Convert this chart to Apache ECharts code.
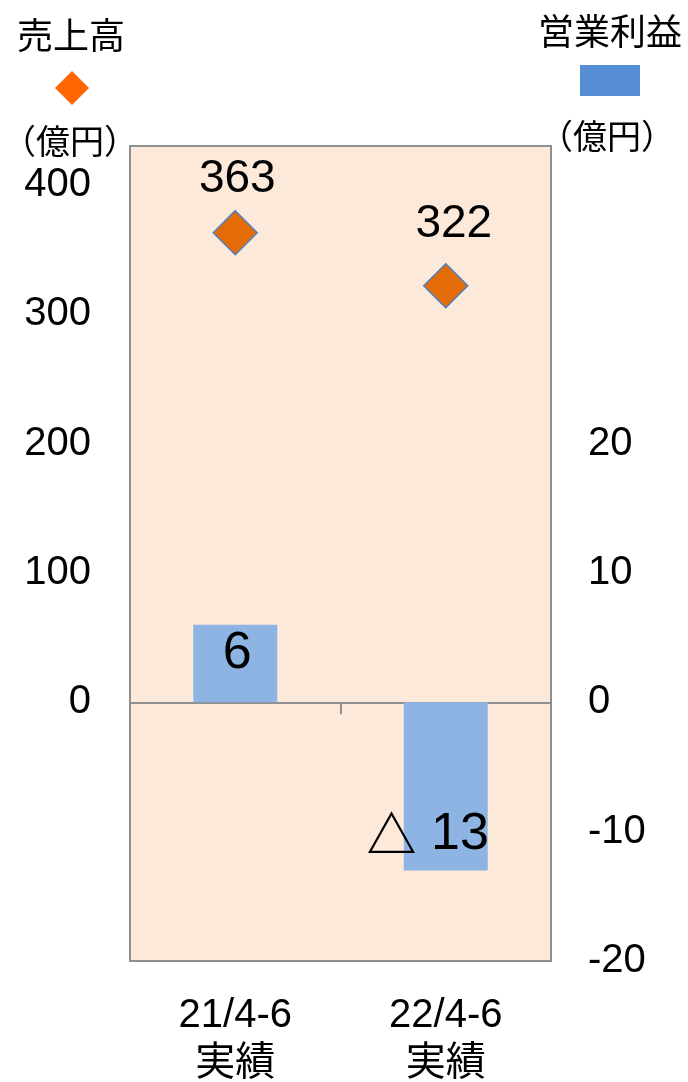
<!DOCTYPE html>
<html>
<head>
<meta charset="utf-8">
<script src="https://cdn.jsdelivr.net/npm/echarts@6/dist/echarts.min.js"></script>
<style>
  html, body { margin: 0; padding: 0; background: #ffffff; }
  #chart { width: 688px; height: 1082px; }
</style>
</head>
<body>
<div id="chart"></div>
<script>
// Quarterly results: net sales (left axis, 億円) and operating profit (right axis, 億円)
const categories = ['21/4-6\n実績', '22/4-6\n実績'];
const salesValues = [363, 322];
const profitValues = [6, -13];
const salesTickLabels = [0, 100, 200, 300, 400];
const profitTickLabels = [-20, -10, 0, 10, 20];

const salesName = '売上高';
const profitName = '営業利益';
const unitText = '（億円）';

const FONT = "'Liberation Sans', Arial, 'Noto Sans CJK JP', sans-serif";
const CJK = "'Noto Sans CJK JP', 'Liberation Sans', sans-serif";

// label placement per point (relative to each mark's centre)
const salesLabelOffsets = [[2, -53], [8, -61]];
const profitLabelOffsets = [[2, -10], [-18, 48]];

// negative values are written with a leading triangle
const profitLabel = v => (v < 0 ? '{tri|△} ' + Math.abs(v) : String(v));

const chart = echarts.init(document.getElementById('chart'), null, { renderer: 'canvas' });

chart.setOption({
  backgroundColor: '#ffffff',
  animation: false,
  grid: {
    left: 130, right: 137, top: 146, bottom: 121,
    outerBoundsMode: 'none',
    containLabel: false,
    show: true,
    backgroundColor: '#FDE9DA',
    borderColor: '#8f8f8f',
    borderWidth: 2
  },
  legend: [
    {
      data: [salesName], icon: 'diamond', itemWidth: 34, itemHeight: 34,
      left: 55, top: 71, padding: 0, itemGap: 0, selectedMode: false,
      formatter: () => '', textStyle: { fontSize: 1 },
      itemStyle: { color: '#FF6600', borderWidth: 0 }
    },
    {
      data: [profitName], icon: 'rect', itemWidth: 60, itemHeight: 31,
      left: 580, top: 65, padding: 0, itemGap: 0, selectedMode: false,
      formatter: () => '', textStyle: { fontSize: 1 },
      itemStyle: { color: '#558ED5', borderWidth: 0 }
    }
  ],
  graphic: [
    { type: 'text', x: 71, y: 35, style: { text: salesName, fontFamily: CJK, fontSize: 36, fill: '#000', align: 'center', verticalAlign: 'middle' } },
    { type: 'text', x: 610, y: 31, style: { text: profitName, fontFamily: CJK, fontSize: 36, fill: '#000', align: 'center', verticalAlign: 'middle' } },
    { type: 'text', x: 70, y: 141, style: { text: unitText, fontFamily: CJK, fontSize: 34, fill: '#000', align: 'center', verticalAlign: 'middle' } },
    { type: 'text', x: 607, y: 136, style: { text: unitText, fontFamily: CJK, fontSize: 34, fill: '#000', align: 'center', verticalAlign: 'middle' } }
  ],
  xAxis: [
    {
      // zero line with the divider tick
      type: 'category', data: categories, position: 'bottom',
      axisLine: { show: true, onZero: true, lineStyle: { color: '#8f8f8f', width: 2 } },
      axisTick: { show: true, length: 12, lineStyle: { color: '#8f8f8f', width: 2 } },
      axisLabel: { show: false },
      splitLine: { show: false }
    },
    {
      // category labels under the plot
      type: 'category', data: categories, position: 'bottom',
      axisLine: { show: false, onZero: false },
      axisTick: { show: false },
      axisLabel: { show: true, margin: 31, fontFamily: FONT, fontSize: 40, lineHeight: 48, color: '#000' },
      splitLine: { show: false }
    }
  ],
  yAxis: [
    {
      type: 'value', position: 'left', min: -200, max: 430, interval: 100,
      axisLine: { show: false }, axisTick: { show: false }, splitLine: { show: false },
      axisLabel: {
        margin: 39, fontFamily: FONT, fontSize: 40, color: '#000',
        formatter: v => (salesTickLabels.includes(v) ? String(v) : '')
      }
    },
    {
      type: 'value', position: 'right', min: -20, max: 43, interval: 10,
      axisLine: { show: false }, axisTick: { show: false }, splitLine: { show: false },
      axisLabel: {
        margin: 37, fontFamily: FONT, fontSize: 40, color: '#000',
        formatter: v => (profitTickLabels.includes(v) ? String(v) : '')
      }
    }
  ],
  series: [
    {
      name: profitName, type: 'bar', xAxisIndex: 0, yAxisIndex: 1,
      barWidth: 84,
      itemStyle: { color: '#8DB4E2' },
      data: profitValues.map((v, i) => ({
        value: v,
        label: { show: true, position: 'inside', offset: profitLabelOffsets[i] }
      })),
      label: {
        show: true, fontFamily: FONT, fontSize: 52, color: '#000',
        formatter: p => profitLabel(p.value),
        rich: {
          tri: { fontFamily: CJK, fontSize: 50, fontWeight: 'bold', color: '#000' }
        }
      },
      z: 2
    },
    {
      name: salesName, type: 'scatter', xAxisIndex: 0, yAxisIndex: 0,
      symbol: 'diamond', symbolSize: 44,
      itemStyle: { color: '#E36C09', borderColor: '#4F81BD', borderWidth: 1.5, opacity: 1 },
      data: salesValues.map((v, i) => ({
        value: v,
        label: { show: true, position: 'inside', offset: salesLabelOffsets[i] }
      })),
      label: {
        show: true, fontFamily: FONT, fontSize: 46, color: '#000',
        formatter: p => String(p.value)
      },
      z: 3
    }
  ]
});
</script>
</body>
</html>
